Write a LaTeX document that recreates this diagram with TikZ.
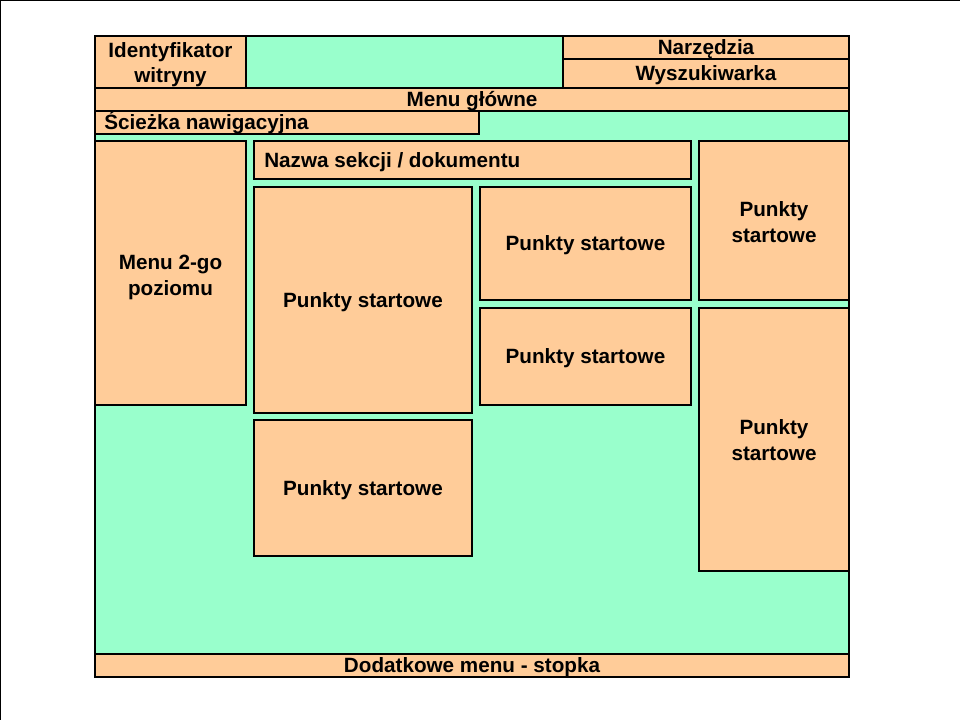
\documentclass[tikz,border=0pt]{standalone}
\usepackage{fontspec}
\setmainfont{Liberation Sans}
\usepackage{tikz}
\definecolor{brzoskw}{HTML}{FFCC99}
\definecolor{mieta}{HTML}{99FFCC}

\begin{document}
\begin{tikzpicture}[x=0.75pt, y=-0.75pt, blok/.style={draw, fill=brzoskw, line width=0.8pt}, tlo/.style={draw, fill=mieta, line width=0.8pt}, tekst/.style={font=\bfseries\fontsize{15.5}{19.1}\selectfont, inner sep=0pt, text height=11.1pt, text depth=0pt}, tekst2/.style={font=\bfseries\fontsize{15.5}{19.1}\selectfont, inner sep=0pt, align=center, anchor=base}]
            \useasboundingbox (0,0) rectangle (960,720);
            \fill[white] (0,0) rectangle (960,720);
            \draw[line width=1.5pt] (0,720) -- (0,0) -- (960,0);
            % page
            \draw[tlo] (95,36) rectangle (849,677);
            % header
            \draw[blok] (95,36) rectangle (246,88);
            \draw[blok] (563,36) rectangle (849,59);
            \draw[blok] (563,59) rectangle (849,88);
            \draw[blok] (95,88) rectangle (849,111);
            \draw[blok] (95,111) rectangle (479,134);
            % content
            \draw[blok] (95,141) rectangle (246,405);
            \draw[blok] (254,141) rectangle (691,179);
            \draw[blok] (254,187) rectangle (472,413);
            \draw[blok] (480,187) rectangle (691,300);
            \draw[blok] (480,308) rectangle (691,405);
            \draw[blok] (254,420) rectangle (472,556);
            \draw[blok] (699,141) rectangle (849,300);
            \draw[blok] (699,308) rectangle (849,571);
            % footer
            \draw[blok] (95,654) rectangle (849,677);
            % nodes
            \node[tekst2] (ident) at (170.5,82.75) {Identyfikator\\witryny};
            \node[tekst] (narz) at (706,47.5) {Narzędzia};
            \node[tekst] (szuk) at (706,73.5) {Wyszukiwarka};
            \node[tekst] (menu) at (472,99.5) {Menu główne};
            \node[tekst, anchor=west] (sciezka) at (104,122.5) {Ścieżka nawigacyjna};
            \node[tekst2] (menu2) at (170.5,295.25) {Menu 2-go\\poziomu};
            \node[tekst, anchor=west] (nazwa) at (264,160) {Nazwa sekcji / dokumentu};
            \node[tekst] (pkt1) at (363,300) {Punkty startowe};
            \node[tekst] (pkt2) at (585.5,243.5) {Punkty startowe};
            \node[tekst] (pkt3) at (585.5,356.5) {Punkty startowe};
            \node[tekst] (pkt4) at (363,488) {Punkty startowe};
            \node[tekst2] (pkt5) at (774,242.25) {Punkty\\startowe};
            \node[tekst2] (pkt6) at (774,460.25) {Punkty\\startowe};
            \node[tekst] (stopka) at (472,665.5) {Dodatkowe menu - stopka};
        \end{tikzpicture}
\end{document}
